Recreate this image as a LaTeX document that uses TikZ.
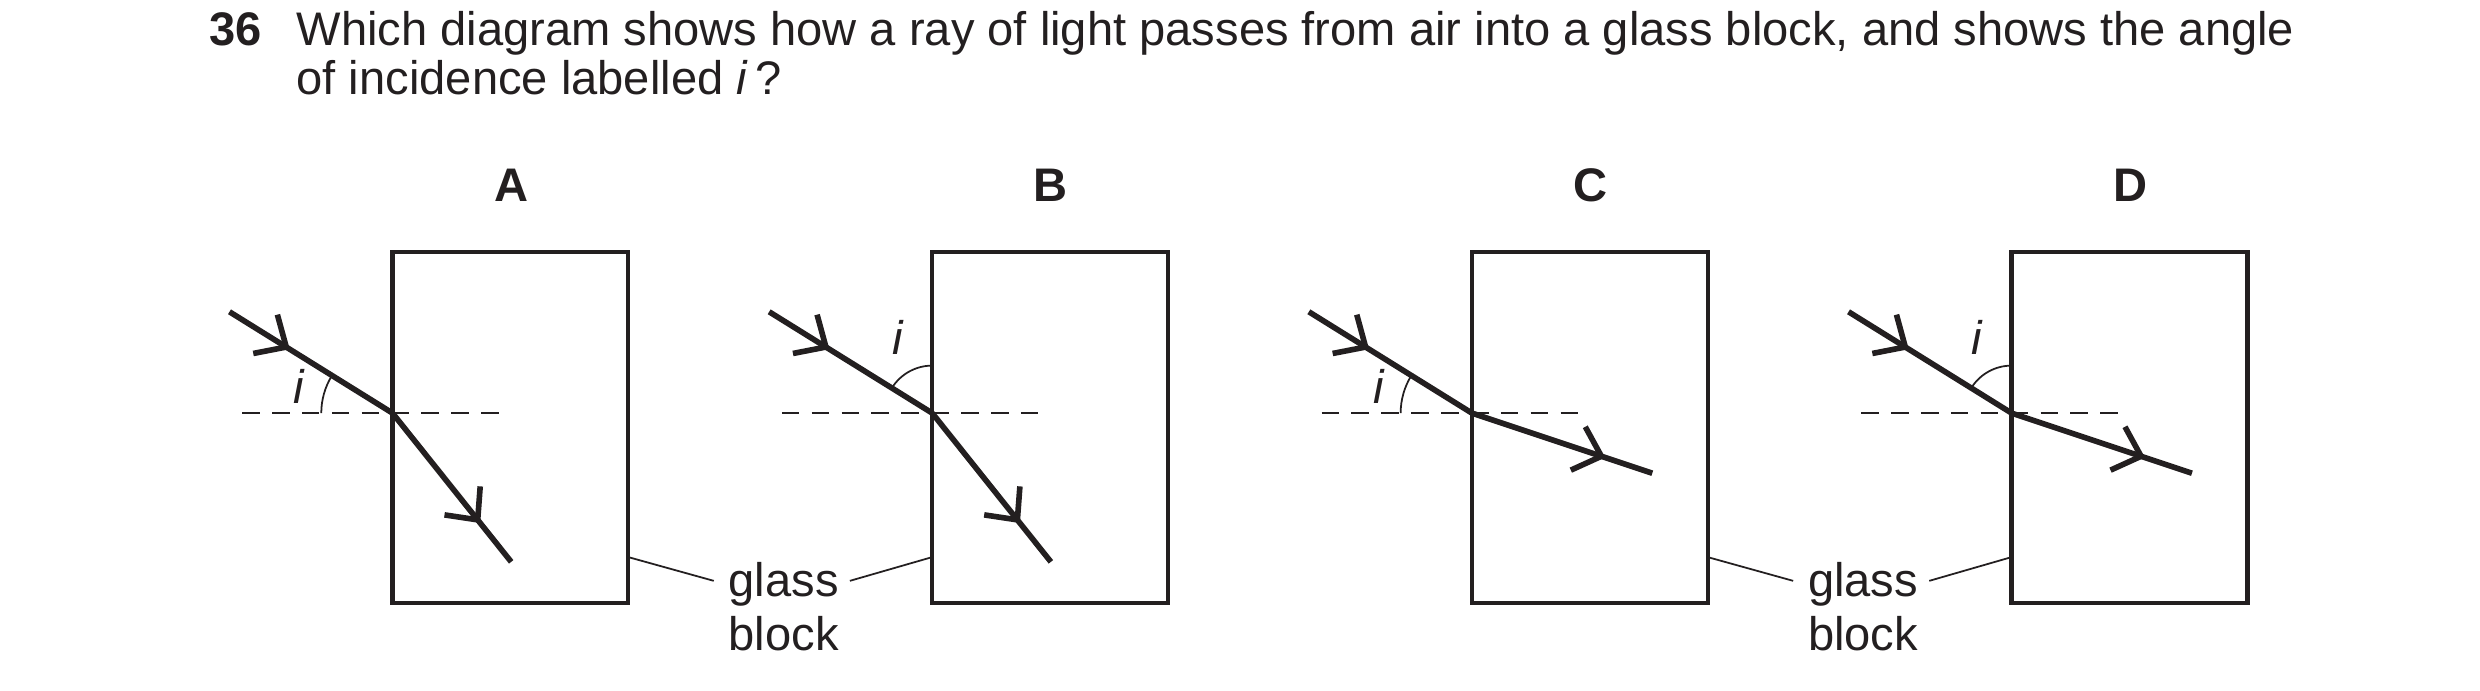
\documentclass[tikz,border=0pt]{standalone}
\usepackage{fontspec}
\setmainfont{Liberation Sans}
\usetikzlibrary{arrows.meta}
\usetikzlibrary{decorations.markings}
\definecolor{ink}{RGB}{35,31,32}
\newcommand{\unitpx}{0.01582cm}
\tikzset{
    block/.style={draw=ink,line width=1.2pt},
    normal/.style={draw=ink,line width=0.6pt,dash pattern=on 5pt off 3.5pt},
    ray/.style={draw=ink,line width=1.6pt,postaction={decorate},
             decoration={markings,mark=at position #1 with {\arrow[ink,line width=1.6pt]{Straight Barb[length=7pt,width=13pt]}}}
    },
    ray/.default=.4,
    angmark/.style={draw=ink,line width=0.5pt},
    leader/.style={draw=ink,line width=0.5pt},
    txt/.style={text=ink,font=\fontsize{13.4}{16}\selectfont,inner sep=0pt}
  }
\begin{document}
\begin{tikzpicture}[x=\unitpx,y=-\unitpx]
 \useasboundingbox (0,0) rectangle (1567,436);
 % question
 \node[txt,anchor=base west,font=\fontsize{13.4}{16}\selectfont\bfseries] (num) at (132,29) {36};
 \node[txt,anchor=base west] (q1) at (187,29) {Which diagram shows how a ray of light passes from air into a glass block, and shows the angle};
 \node[txt,anchor=base west] (q2) at (187,60) {of incidence labelled \textit{i}\,?};
 % the four blocks
 \foreach \lab/\dx/\bend/\side in {A/0/0/0, B/341/0/1, C/682/1/0, D/1023/1/1}{
   \begin{scope}[xshift=\dx*\unitpx]
     \node[txt,font=\fontsize{13.4}{16}\selectfont\bfseries] (lab\lab) at (323,117) {\lab};
     \draw[block] (248,159) rectangle (397,381);
     \coordinate (hit\lab) at (248,261);
     \coordinate (in\lab) at (145,197);
     \draw[normal] (153,261) -- (318,261);
     \draw[ray=.37] (in\lab) -- (hit\lab);
     \ifnum\bend=0
       \coordinate (out\lab) at (323,355);
     \else
       \coordinate (out\lab) at (1044-682,299);
     \fi
     \draw[ray=.74] (hit\lab) -- (out\lab);
     % angle of incidence
     \ifnum\side=0
       \draw[angmark] ([shift={(180:45)}]hit\lab) arc[start angle=180,end angle=212,radius=45];
       \node[txt,font=\fontsize{13.4}{16}\selectfont\itshape] (ang\lab) at (189,244) {i};
     \else
       \draw[angmark] ([shift={(212:30)}]hit\lab) arc[start angle=212,end angle=270,radius=30];
       \node[txt,font=\fontsize{13.4}{16}\selectfont\itshape] (ang\lab) at (567-341,213) {i};
     \fi
   \end{scope}
 }
 % glass block labels
 \foreach \dx/\n in {0/1, 682/2}{
   \begin{scope}[xshift=\dx*\unitpx]
     \node[txt,anchor=base west] (glass\n) at (460,377) {glass};
     \node[txt,anchor=base west] (word\n) at (460,411) {block};
     \coordinate (lend\n) at (397,352);
     \coordinate (rend\n) at (589,352);
     \coordinate (lfoot\n) at (451,367);
     \coordinate (rfoot\n) at (537,367);
     \draw[leader] (lend\n) -- (lfoot\n);
     \draw[leader] (rfoot\n) -- (rend\n);
   \end{scope}
 }
\end{tikzpicture}
\end{document}
